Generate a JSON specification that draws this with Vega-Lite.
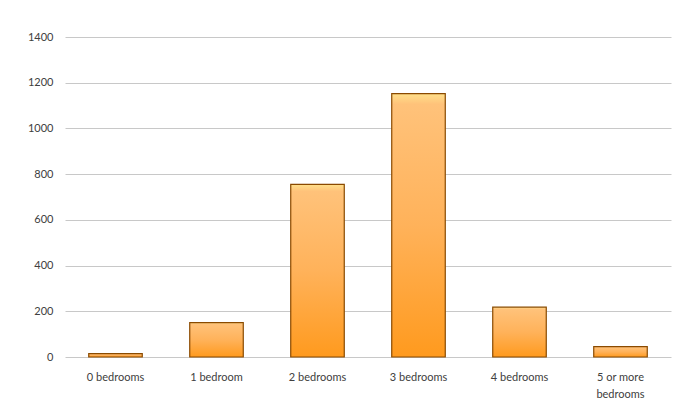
{
  "$schema": "https://vega.github.io/schema/vega-lite/v6.json",
  "autosize": {"type": "none"},
  "width": 606,
  "height": 320,
  "padding": {"left": 65, "top": 37, "right": 18, "bottom": 58},
  "background": "white",
  "config": {"view": {"stroke": null}, "font": "Lato"},
  "data": {
    "values": [
      {"category": "0 bedrooms", "count": 15},
      {"category": "1 bedroom", "count": 150},
      {"category": "2 bedrooms", "count": 755},
      {"category": "3 bedrooms", "count": 1152},
      {"category": "4 bedrooms", "count": 218},
      {"category": "5 or more bedrooms", "count": 45}
    ]
  },
  "mark": {
    "type": "bar",
    "stroke": "#8a4a00",
    "strokeWidth": 1.2,
    "color": {
      "gradient": "linear",
      "x1": 0, "y1": 0, "x2": 0, "y2": 1,
      "stops": [
        {"offset": 0, "color": "#ffe08a"},
        {"offset": 0.04, "color": "#ffc27a"},
        {"offset": 0.5, "color": "#ffb25a"},
        {"offset": 1, "color": "#ff9a1e"}
      ]
    }
  },
  "encoding": {
    "x": {
      "field": "category",
      "type": "nominal",
      "sort": null,
      "scale": {"paddingInner": 0.47, "paddingOuter": 0.235},
      "axis": {
        "title": null,
        "labelAngle": 0,
        "domain": false,
        "ticks": false,
        "labelPadding": 14,
        "labelFontSize": 11,
        "labelColor": "#404040",
        "labelExpr": "datum.label == '5 or more bedrooms' ? ['5 or more', 'bedrooms'] : datum.label",
        "labelLineHeight": 17
      }
    },
    "y": {
      "field": "count",
      "type": "quantitative",
      "scale": {"domain": [0, 1400], "nice": false},
      "axis": {
        "title": null,
        "format": "d",
        "values": [0, 200, 400, 600, 800, 1000, 1200, 1400],
        "domain": false,
        "ticks": false,
        "labelPadding": 12,
        "labelFontSize": 11,
        "labelColor": "#404040",
        "gridColor": "#c8c8c8",
        "gridWidth": 1
      }
    }
  }
}
